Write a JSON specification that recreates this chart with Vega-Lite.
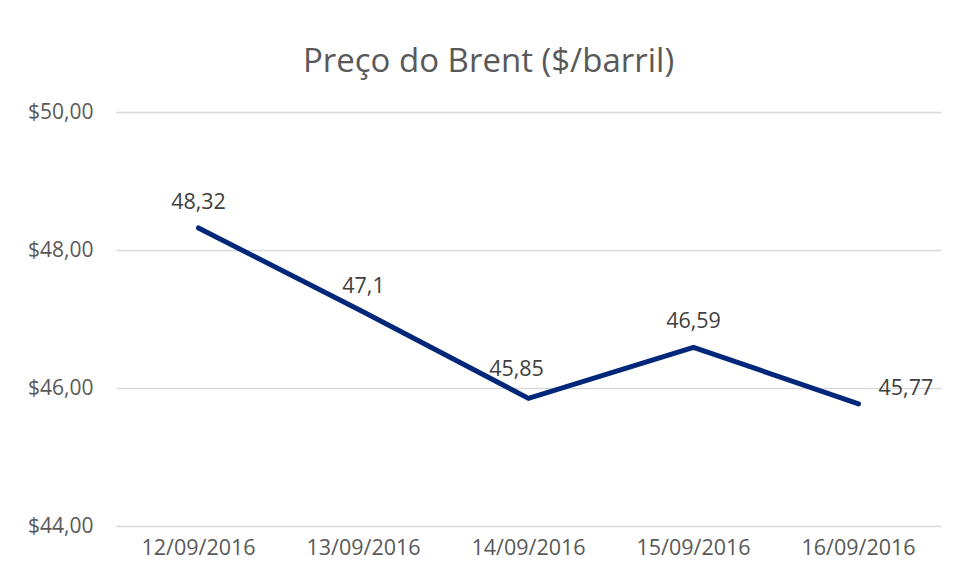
{
  "$schema": "https://vega.github.io/schema/vega-lite/v6.json",
  "autosize": {"type": "none"},
  "width": 825,
  "height": 414,
  "padding": {"left": 116, "top": 112, "right": 15, "bottom": 55},
  "background": "white",
  "title": {
    "text": "Preço do Brent ($/barril)",
    "font": "Open Sans",
    "fontSize": 33,
    "fontWeight": "normal",
    "color": "#595959",
    "anchor": "middle",
    "dx": -40,
    "offset": 22
  },
  "data": {
    "values": [
      {"date": "12/09/2016", "price": 48.32, "pos": "above"},
      {"date": "13/09/2016", "price": 47.1, "pos": "above"},
      {"date": "14/09/2016", "price": 45.85, "pos": "aboveleft"},
      {"date": "15/09/2016", "price": 46.59, "pos": "above"},
      {"date": "16/09/2016", "price": 45.77, "pos": "right"}
    ]
  },
  "transform": [
    {"calculate": "replace(toString(datum.price), '.', ',')", "as": "label"}
  ],
  "encoding": {
    "x": {
      "field": "date",
      "type": "ordinal",
      "sort": null,
      "scale": {"type": "band", "paddingInner": 0, "paddingOuter": 0},
      "axis": {
        "title": null,
        "labelAngle": 0,
        "labelFont": "Open Sans",
        "labelFontSize": 21.5,
        "labelColor": "#595959",
        "labelPadding": 11,
        "ticks": false,
        "domain": false,
        "grid": false
      }
    },
    "y": {
      "field": "price",
      "type": "quantitative",
      "scale": {"domain": [44, 50], "nice": false, "zero": false},
      "axis": {
        "title": null,
        "values": [44, 46, 48, 50],
        "labelExpr": "'$' + replace(format(datum.value, '.2f'), '.', ',')",
        "labelFont": "Open Sans",
        "labelFontSize": 21,
        "labelColor": "#595959",
        "labelPadding": 23,
        "ticks": false,
        "domain": false,
        "grid": true,
        "gridColor": "#d9d9d9",
        "gridWidth": 1.3
      }
    }
  },
  "layer": [
    {
      "mark": {"type": "line", "color": "#00277A", "strokeWidth": 5, "strokeCap": "round", "strokeJoin": "miter"}
    },
    {
      "transform": [{"filter": "datum.pos == 'above'"}],
      "mark": {"type": "text", "font": "Open Sans", "fontSize": 21.5, "color": "#404040", "baseline": "middle", "dy": -25},
      "encoding": {"text": {"field": "label"}}
    },
    {
      "transform": [{"filter": "datum.pos == 'aboveleft'"}],
      "mark": {"type": "text", "font": "Open Sans", "fontSize": 21.5, "color": "#404040", "baseline": "middle", "dy": -28, "dx": -12},
      "encoding": {"text": {"field": "label"}}
    },
    {
      "transform": [{"filter": "datum.pos == 'right'"}],
      "mark": {"type": "text", "font": "Open Sans", "fontSize": 21.5, "color": "#404040", "baseline": "middle", "align": "left", "dy": -15, "dx": 20},
      "encoding": {"text": {"field": "label"}}
    }
  ],
  "config": {"view": {"stroke": null}}
}
